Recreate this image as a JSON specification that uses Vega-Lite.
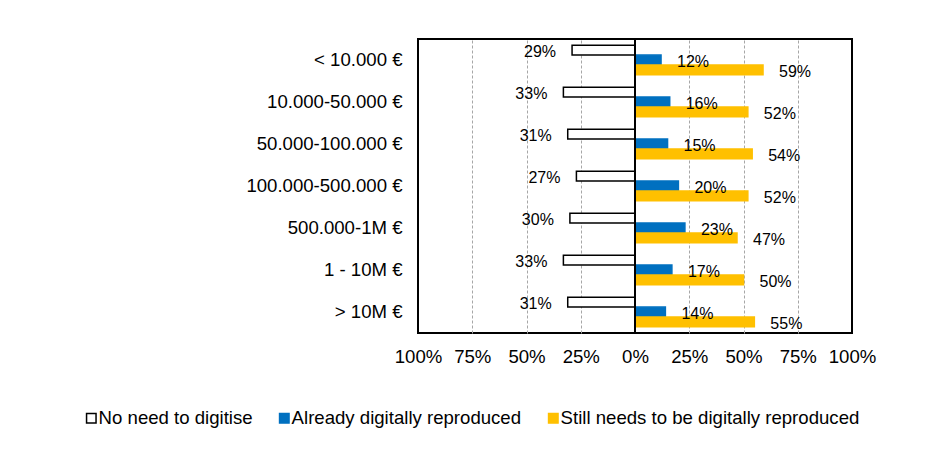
{
  "$schema": "https://vega.github.io/schema/vega-lite/v6.json",
  "width": 434,
  "height": 294,
  "autosize": {"type": "none"},
  "padding": {"left": 418, "top": 39, "right": 97, "bottom": 133},
  "background": "white",
  "config": {
    "view": {"stroke": "black", "strokeWidth": 2},
    "font": "Liberation Sans"
  },
  "data": {
    "values": [
      {"size": "< 10.000 €", "series": "No need to digitise", "value": -29},
      {"size": "< 10.000 €", "series": "Already digitally reproduced", "value": 12},
      {"size": "< 10.000 €", "series": "Still needs to be digitally reproduced", "value": 59},
      {"size": "10.000-50.000 €", "series": "No need to digitise", "value": -33},
      {"size": "10.000-50.000 €", "series": "Already digitally reproduced", "value": 16},
      {"size": "10.000-50.000 €", "series": "Still needs to be digitally reproduced", "value": 52},
      {"size": "50.000-100.000 €", "series": "No need to digitise", "value": -31},
      {"size": "50.000-100.000 €", "series": "Already digitally reproduced", "value": 15},
      {"size": "50.000-100.000 €", "series": "Still needs to be digitally reproduced", "value": 54},
      {"size": "100.000-500.000 €", "series": "No need to digitise", "value": -27},
      {"size": "100.000-500.000 €", "series": "Already digitally reproduced", "value": 20},
      {"size": "100.000-500.000 €", "series": "Still needs to be digitally reproduced", "value": 52},
      {"size": "500.000-1M €", "series": "No need to digitise", "value": -30},
      {"size": "500.000-1M €", "series": "Already digitally reproduced", "value": 23},
      {"size": "500.000-1M €", "series": "Still needs to be digitally reproduced", "value": 47},
      {"size": "1 - 10M €", "series": "No need to digitise", "value": -33},
      {"size": "1 - 10M €", "series": "Already digitally reproduced", "value": 17},
      {"size": "1 - 10M €", "series": "Still needs to be digitally reproduced", "value": 50},
      {"size": "> 10M €", "series": "No need to digitise", "value": -31},
      {"size": "> 10M €", "series": "Already digitally reproduced", "value": 14},
      {"size": "> 10M €", "series": "Still needs to be digitally reproduced", "value": 55}
    ]
  },
  "transform": [
    {"calculate": "abs(datum.value) + '%'", "as": "label"}
  ],
  "layer": [
    {
      "mark": {"type": "bar", "strokeWidth": 1.5},
      "encoding": {
        "y": {
          "field": "size", "type": "nominal",
          "sort": ["< 10.000 €", "10.000-50.000 €", "50.000-100.000 €", "100.000-500.000 €", "500.000-1M €", "1 - 10M €", "> 10M €"],
          "scale": {"paddingInner": 0.3, "paddingOuter": 0.15},
          "axis": {"title": null, "ticks": false, "domain": false, "grid": false, "labelFontSize": 18.6, "labelPadding": 16, "labelColor": "black", "labelLimit": 0}
        },
        "yOffset": {
          "field": "series", "type": "nominal",
          "scale": {"domain": ["No need to digitise", "Already digitally reproduced", "Still needs to be digitally reproduced"], "paddingInner": 0, "paddingOuter": 0}
        },
        "x": {
          "field": "value", "type": "quantitative",
          "scale": {"domain": [-100, 100], "nice": false, "zero": false},
          "axis": {
            "title": null,
            "values": [-100, -75, -50, -25, 0, 25, 50, 75, 100],
            "labelExpr": "abs(datum.value) + '%'",
            "ticks": false, "domain": false,
            "labelFlush": false,
            "labelFontSize": 18.6, "labelColor": "black", "labelPadding": 14,
            "grid": true,
            "gridDash": [3, 2],
            "gridColor": {"condition": {"test": "abs(datum.value) == 100 || datum.value == 0", "value": "transparent"}, "value": "#A6A6A6"},
            "gridWidth": 1
          }
        },
        "fill": {
          "field": "series", "type": "nominal",
          "scale": {"domain": ["No need to digitise", "Already digitally reproduced", "Still needs to be digitally reproduced"], "range": ["white", "#0070C0", "#FFC000"]},
          "legend": {
            "orient": "none", "legendX": -336, "legendY": 370,
            "direction": "horizontal", "title": null,
            "symbolType": "square", "symbolSize": 90, "symbolStrokeWidth": 1.5,
            "labelFontSize": 18.6, "labelColor": "black", "labelOffset": -2, "labelLimit": 0,
            "columnPadding": 22, "padding": 0
          }
        },
        "stroke": {
          "field": "series", "type": "nominal",
          "scale": {"domain": ["No need to digitise", "Already digitally reproduced", "Still needs to be digitally reproduced"], "range": ["black", "#0070C0", "#FFC000"]},
          "legend": {
            "orient": "none", "legendX": -336, "legendY": 370,
            "direction": "horizontal", "title": null,
            "symbolType": "square", "symbolSize": 90, "symbolStrokeWidth": 1.5,
            "labelFontSize": 18.6, "labelColor": "black", "labelOffset": -2, "labelLimit": 0,
            "columnPadding": 22, "padding": 0
          }
        }
      }
    },
    {
      "data": {"values": [{"zero": 0}]},
      "mark": {"type": "rule", "color": "black", "strokeWidth": 2},
      "encoding": {"x": {"field": "zero", "type": "quantitative"}}
    },
    {
      "transform": [{"filter": "datum.series == 'No need to digitise'"}],
      "mark": {"type": "text", "align": "right", "baseline": "middle", "dx": -16, "dy": 2, "fontSize": 16, "color": "black"},
      "encoding": {
        "y": {"field": "size", "type": "nominal", "sort": ["< 10.000 €", "10.000-50.000 €", "50.000-100.000 €", "100.000-500.000 €", "500.000-1M €", "1 - 10M €", "> 10M €"]},
        "yOffset": {"field": "series", "type": "nominal"},
        "x": {"field": "value", "type": "quantitative"},
        "text": {"field": "label", "type": "nominal"}
      }
    },
    {
      "transform": [{"filter": "datum.series != 'No need to digitise'"}],
      "mark": {"type": "text", "align": "left", "baseline": "middle", "dx": 16, "dy": 2, "fontSize": 16, "color": "black"},
      "encoding": {
        "y": {"field": "size", "type": "nominal", "sort": ["< 10.000 €", "10.000-50.000 €", "50.000-100.000 €", "100.000-500.000 €", "500.000-1M €", "1 - 10M €", "> 10M €"]},
        "yOffset": {"field": "series", "type": "nominal"},
        "x": {"field": "value", "type": "quantitative"},
        "text": {"field": "label", "type": "nominal"}
      }
    }
  ]
}
